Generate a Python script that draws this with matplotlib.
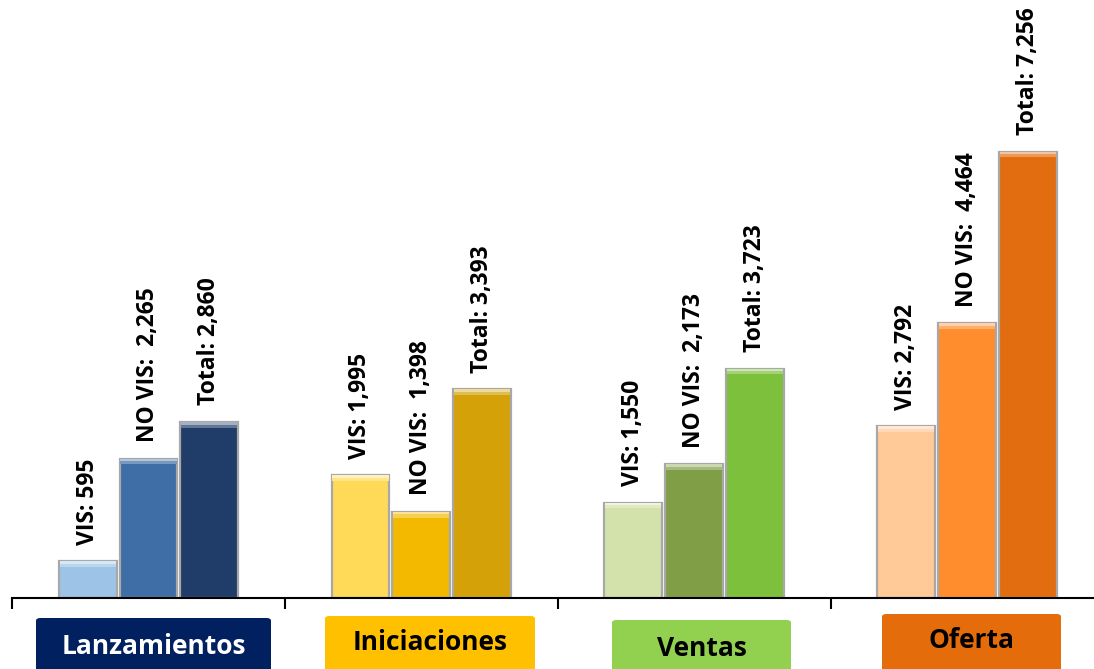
import matplotlib
matplotlib.use("Agg")
import matplotlib.pyplot as plt
import numpy as np
from matplotlib.patches import FancyBboxPatch

plt.rcParams['font.family'] = ['Open Sans', 'DejaVu Sans']

groups = ["Lanzamientos", "Iniciaciones", "Ventas", "Oferta"]
vis = [595, 1995, 1550, 2792]
no_vis = [2265, 1398, 2173, 4464]
total = [2860, 3393, 3723, 7256]

bar_colors = [
    ["#9DC3E6", "#3F6DA6", "#1F3D68"],
    ["#FFDA58", "#F3B900", "#D4A208"],
    ["#D2E2AA", "#7F9E45", "#7DC03B"],
    ["#FFC998", "#FF8C2D", "#E26D11"],
]
box_colors = ["#002060", "#FFC000", "#92D050", "#E46C0A"]
box_text_colors = ["white", "black", "black", "black"]


def lighten(c, f):
    rgb = np.array(matplotlib.colors.to_rgb(c))
    return tuple(rgb + (1 - rgb) * f)


W, H = 1094, 669
fig = plt.figure(figsize=(W / 100, H / 100), dpi=100)
ax = fig.add_axes([12 / W, 71 / H, 1082 / W, 598 / H])

x = np.arange(len(groups))
width = 0.212
step = 0.223
series = [
    (vis, "VIS: {:,}"),
    (no_vis, "NO VIS:  {:,}"),
    (total, "Total: {:,}"),
]

for k, (vals, fmt) in enumerate(series):
    xs = x + (k - 1) * step
    for i, v in enumerate(vals):
        c = bar_colors[i][k]
        ax.bar(xs[i], v, width, color=c, edgecolor="#a8a8a8", linewidth=1.6, zorder=2)
        # bevel highlight on top
        ax.bar(xs[i], 90, width * 0.97, bottom=v - 90, color=lighten(c, 0.3),
               linewidth=0, zorder=3)
        ax.bar(xs[i], 40, width * 0.97, bottom=v - 40, color=lighten(c, 0.6),
               linewidth=0, zorder=3)
        ax.annotate(fmt.format(v), (xs[i], v), xytext=(0, 12), textcoords="offset points",
                    rotation=90, ha="center", va="bottom", fontsize=16.5,
                    fontweight="bold", color="black")

for s in ["left", "right", "top"]:
    ax.spines[s].set_visible(False)
ax.spines["bottom"].set_linewidth(1.5)
ax.set_yticks([])
ax.set_xticks([-0.5, 0.5, 1.5, 2.5])
ax.set_xticklabels([])
ax.tick_params(axis="x", direction="out", length=8, width=1.5)
ax.set_xlim(-0.5, 3.465)
ax.set_ylim(0, 9720)

# category boxes below the axis
boxes = [(36, 271, 618), (325, 535, 616), (612, 791, 620), (882, 1061, 614)]
text_y = [646, 643, 648, 641]
for (x0, x1, top), ty, name, bc, tc in zip(boxes, text_y, groups, box_colors, box_text_colors):
    p = FancyBboxPatch((x0 / W, -10 / H), (x1 - x0) / W, (H - top + 10) / H,
                       boxstyle="round,pad=0,rounding_size=0.004",
                       transform=fig.transFigure, facecolor=bc, edgecolor="none")
    fig.patches.append(p)
    fig.text((x0 + x1) / 2 / W, (H - ty) / H, name, ha="center", va="center",
             fontsize=19, fontweight="bold", color=tc)

fig.savefig("out.png", dpi=100)
